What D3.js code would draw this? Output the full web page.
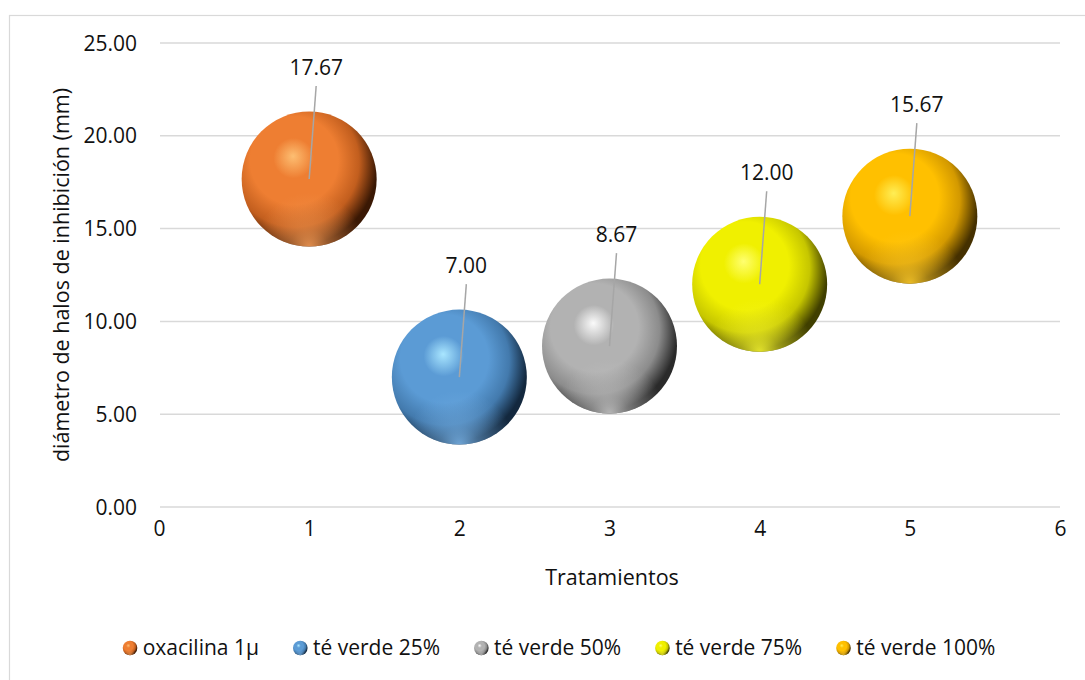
<!DOCTYPE html>
<html>
<head>
<meta charset="utf-8">
<script src="https://cdn.jsdelivr.net/npm/d3@7"></script>
<style>
  html, body { margin: 0; padding: 0; background: #fff; }
  svg { display: block; }
  text { font-family: "Open Sans", "Noto Sans", sans-serif; fill: #111; }
</style>
</head>
<body>
<svg id="chart" width="1085" height="680"></svg>
<script>
// ---- data ----
const categories = ["oxacilina 1µ", "té verde 25%", "té verde 50%", "té verde 75%", "té verde 100%"];
const xValues = [1, 2, 3, 4, 5];
const yValues = [17.67, 7.00, 8.67, 12.00, 15.67];
const bubbleSizes = [1, 1, 1, 1, 1];
const xTicks = [0, 1, 2, 3, 4, 5, 6];
const yTicks = [0, 5, 10, 15, 20, 25];
const xTitle = "Tratamientos";
const yTitle = "diámetro de halos de inhibición (mm)";

// ---- styles ----
const palette = [
  { hi: "#FDBE72", base: "#EE7E32", mid: "#C25E1E", dark: "#3A1804", rim: "#F39A55" },
  { hi: "#A9E6FF", base: "#5B9BD5", mid: "#437AAD", dark: "#13283E", rim: "#78B2E6" },
  { hi: "#FAFAFA", base: "#B2B2B2", mid: "#8C8C8C", dark: "#2A2A2A", rim: "#C6C6C6" },
  { hi: "#FFFF70", base: "#F0F000", mid: "#C6C600", dark: "#403F00", rim: "#F6F630" },
  { hi: "#FFEE55", base: "#FFC000", mid: "#D39900", dark: "#453000", rim: "#FFCC2A" }
];

const svg = d3.select("#chart");
const plot = { left: 159, right: 1060, top: 43, bottom: 507 };

const x = d3.scaleLinear().domain([0, 6]).range([plot.left, plot.right]);
const y = d3.scaleLinear().domain([0, 25]).range([plot.bottom, plot.top]);
const r = d3.scaleSqrt().domain([0, 1]).range([0, 67.5]);

// chart area frame (extends beyond the visible crop on right/bottom)
svg.append("rect")
  .attr("x", 9.5).attr("y", 15.5)
  .attr("width", 1100).attr("height", 700)
  .attr("fill", "#fff").attr("stroke", "#d9d9d9").attr("stroke-width", 1.2);

// gradients
const defs = svg.append("defs");
palette.forEach((p, i) => {
  const g = defs.append("radialGradient").attr("id", "sph" + i)
    .attr("cx", "40%").attr("cy", "40%").attr("r", "68%")
    .attr("fx", "38%").attr("fy", "33%");
  g.append("stop").attr("offset", "0%").attr("stop-color", p.hi);
  g.append("stop").attr("offset", "22%").attr("stop-color", p.base);
  g.append("stop").attr("offset", "48%").attr("stop-color", p.base);
  g.append("stop").attr("offset", "70%").attr("stop-color", p.mid);
  g.append("stop").attr("offset", "89%").attr("stop-color", p.dark);
  g.append("stop").attr("offset", "100%").attr("stop-color", p.dark);

  const rim = defs.append("radialGradient").attr("id", "rim" + i)
    .attr("cx", "50%").attr("cy", "100%").attr("r", "40%")
    .attr("fx", "50%").attr("fy", "100%");
  rim.append("stop").attr("offset", "0%").attr("stop-color", p.rim).attr("stop-opacity", 0.9);
  rim.append("stop").attr("offset", "35%").attr("stop-color", p.rim).attr("stop-opacity", 0.5);
  rim.append("stop").attr("offset", "100%").attr("stop-color", p.rim).attr("stop-opacity", 0);
});

// gridlines
svg.append("g").selectAll("line").data(yTicks).join("line")
  .attr("x1", plot.left + 1).attr("x2", plot.right)
  .attr("y1", d => y(d)).attr("y2", d => y(d))
  .attr("stroke", "#d9d9d9").attr("stroke-width", 1.5);

// y axis
const yAxis = d3.axisLeft(y).tickValues(yTicks).tickFormat(d3.format(".2f")).tickSize(0).tickPadding(22);
const gy = svg.append("g").attr("transform", `translate(${plot.left},0)`).call(yAxis);
gy.select(".domain").remove();
gy.selectAll("text").attr("font-size", 21).attr("font-family", "Open Sans").attr("fill", "#111").attr("dy", "0.34em");

// x axis
const xAxis = d3.axisBottom(x).tickValues(xTicks).tickFormat(d3.format("d")).tickSize(0).tickPadding(14);
const gx = svg.append("g").attr("transform", `translate(0,${plot.bottom})`).call(xAxis);
gx.select(".domain").remove();
gx.selectAll("text").attr("font-size", 21).attr("font-family", "Open Sans").attr("fill", "#111");

// axis titles
svg.append("text").attr("x", 612).attr("y", 585).attr("text-anchor", "middle")
  .attr("font-size", 21.5).text(xTitle);
svg.append("text").attr("transform", `translate(69,${(plot.top + plot.bottom) / 2}) rotate(-90)`)
  .attr("text-anchor", "middle").attr("font-size", 21.5).text(yTitle);

// bubbles
const data = categories.map((c, i) => ({ c, x: xValues[i], y: yValues[i], s: bubbleSizes[i], i }));
const bub = svg.append("g").selectAll("g").data(data).join("g");
bub.append("circle").attr("cx", d => x(d.x)).attr("cy", d => y(d.y)).attr("r", d => r(d.s))
  .attr("fill", d => `url(#sph${d.i})`);
bub.append("circle").attr("cx", d => x(d.x)).attr("cy", d => y(d.y)).attr("r", d => r(d.s))
  .attr("fill", d => `url(#rim${d.i})`);

// data labels with leader lines
const labelDx = 7, lineTop = 93, labelBase = 104;
const lab = svg.append("g").selectAll("g").data(data).join("g");
lab.append("line")
  .attr("x1", d => x(d.x)).attr("y1", d => y(d.y))
  .attr("x2", d => x(d.x) + labelDx).attr("y2", d => y(d.y) - lineTop)
  .attr("stroke", "#a6a6a6").attr("stroke-width", 1.5);
lab.append("text")
  .attr("x", d => x(d.x) + labelDx).attr("y", d => y(d.y) - labelBase)
  .attr("text-anchor", "middle").attr("font-size", 21)
  .text(d => d3.format(".2f")(d.y));

// legend
const leg = svg.append("g");
const items = leg.selectAll("g").data(data).join("g");
items.append("circle").attr("r", 7.3).attr("cx", 7.3).attr("cy", 0).attr("fill", d => `url(#sph${d.i})`);
items.append("circle").attr("r", 7.3).attr("cx", 7.3).attr("cy", 0).attr("fill", d => `url(#rim${d.i})`);
items.append("text").attr("x", 20).attr("y", 0).attr("dy", "0.34em").attr("font-size", 21).text(d => d.c);
let offs = 0;
const gap = 34;
const widths = [];
items.each(function () { widths.push(this.getBBox().width); });
const total = d3.sum(widths) + gap * (widths.length - 1);
const startX = 559 - total / 2;
items.attr("transform", (d, i) => {
  const t = `translate(${startX + offs},648)`;
  offs += widths[i] + gap;
  return t;
});
</script>
</body>
</html>
